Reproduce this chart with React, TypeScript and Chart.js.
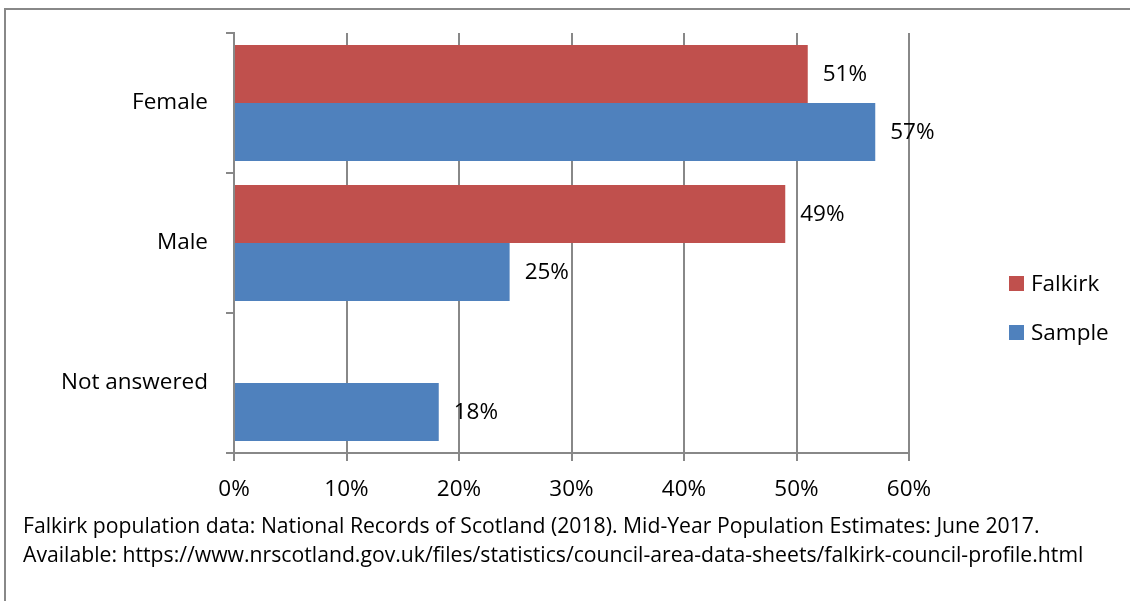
import React, { useEffect, useRef } from "react";
import { Chart, registerables } from "chart.js";

Chart.register(...registerables);

const categories = ["Female", "Male", "Not answered"];
const falkirkValues: (number | null)[] = [51, 49, null];
const sampleValues: (number | null)[] = [57, 24.5, 18.2];
const seriesNames = ["Falkirk", "Sample"];
const seriesColors = ["#C0504D", "#4F81BD"];
const xTickValues = [0, 10, 20, 30, 40, 50, 60];
const footnoteLines = [
  "Falkirk population data: National Records of Scotland (2018). Mid-Year Population Estimates: June 2017.",
  "Available: https://www.nrscotland.gov.uk/files/statistics/council-area-data-sheets/falkirk-council-profile.html",
];

const FONT = "'Open Sans', sans-serif";
const GRID = "#888888";
const FS = 22.5;

export default function App() {
  const ref = useRef<HTMLCanvasElement>(null);

  useEffect(() => {
    document.body.style.margin = "0";
    const canvas = ref.current!;

    const valueLabels = {
      id: "valueLabels",
      afterDatasetsDraw(chart: any) {
        const ctx = chart.ctx;
        ctx.save();
        ctx.font = `${FS}px ${FONT}`;
        ctx.fillStyle = "#000";
        ctx.textAlign = "left";
        ctx.textBaseline = "middle";
        chart.data.datasets.forEach((ds: any, di: number) => {
          const meta = chart.getDatasetMeta(di);
          meta.data.forEach((el: any, i: number) => {
            const v = ds.data[i];
            if (v === null || v === undefined) return;
            ctx.fillText(Math.round(v) + "%", el.x + 15, el.y + 1);
          });
        });
        ctx.restore();
      },
    };

    const sideLegend = {
      id: "sideLegend",
      afterDraw(chart: any) {
        const ctx = chart.ctx;
        ctx.save();
        ctx.font = `${FS}px ${FONT}`;
        ctx.textAlign = "left";
        ctx.textBaseline = "middle";
        const x0 = chart.chartArea.right + 100;
        const y0 = 283.5;
        const gap = 49;
        chart.data.datasets.forEach((ds: any, i: number) => {
          const cy = y0 + i * gap;
          ctx.fillStyle = ds.backgroundColor;
          ctx.fillRect(x0, cy - 7.5, 15, 15);
          ctx.fillStyle = "#000";
          ctx.fillText(ds.label, x0 + 22, cy + 1);
        });
        ctx.restore();
      },
    };

    const chart = new Chart(canvas, {
      type: "bar",
      data: {
        labels: categories,
        datasets: [
          {
            label: seriesNames[0],
            data: falkirkValues,
            backgroundColor: seriesColors[0],
            categoryPercentage: 0.83,
            barPercentage: 1,
          },
          {
            label: seriesNames[1],
            data: sampleValues,
            backgroundColor: seriesColors[1],
            categoryPercentage: 0.83,
            barPercentage: 1,
          },
        ],
      },
      options: {
        indexAxis: "y",
        responsive: false,
        animation: false,
        events: [],
        layout: { padding: { top: 33, right: 221, bottom: 0, left: 0 } },
        plugins: { legend: { display: false }, tooltip: { enabled: false } },
        scales: {
          x: {
            min: 0,
            max: 60,
            afterBuildTicks: (s: any) => {
              s.ticks = xTickValues.map((v) => ({ value: v }));
            },
            afterFit: (s: any) => {
              s.height = 148;
            },
            ticks: {
              callback: (v: any) => v + "%",
              font: { family: FONT, size: FS },
              color: "#000",
              padding: 15,
              maxRotation: 0,
            },
            grid: { color: GRID, lineWidth: 2, tickLength: 8 },
            border: { color: GRID, width: 2 },
          },
          y: {
            afterFit: (s: any) => {
              s.width = 234;
            },
            ticks: {
              font: { family: FONT, size: FS },
              color: "#000",
              padding: 18,
            },
            grid: {
              drawOnChartArea: false,
              tickLength: 8,
              color: GRID,
              lineWidth: 2,
              offset: true,
            },
            border: { color: GRID, width: 2 },
          },
        },
      } as any,
      plugins: [valueLabels, sideLegend],
    });
    return () => chart.destroy();
  }, []);

  return (
    <div
      style={{
        position: "fixed",
        left: 0,
        top: 0,
        width: 1130,
        height: 601,
        overflow: "hidden",
        background: "#fff",
      }}
    >
      <div
        style={{
          position: "absolute",
          left: 4,
          top: 8,
          width: 1300,
          height: 800,
          border: `2px solid ${GRID}`,
          boxSizing: "border-box",
        }}
      />
      <canvas
        ref={ref}
        width={1130}
        height={601}
        style={{ position: "absolute", left: 0, top: 0, display: "block" }}
      />
      {footnoteLines.map((t, i) => (
        <div
          key={i}
          style={{
            position: "absolute",
            left: 23,
            top: 510 + i * 29,
            fontFamily: FONT,
            fontSize: 21.2,
            lineHeight: "29px",
            color: "#000",
            whiteSpace: "nowrap",
          }}
        >
          {t}
        </div>
      ))}
    </div>
  );
}
